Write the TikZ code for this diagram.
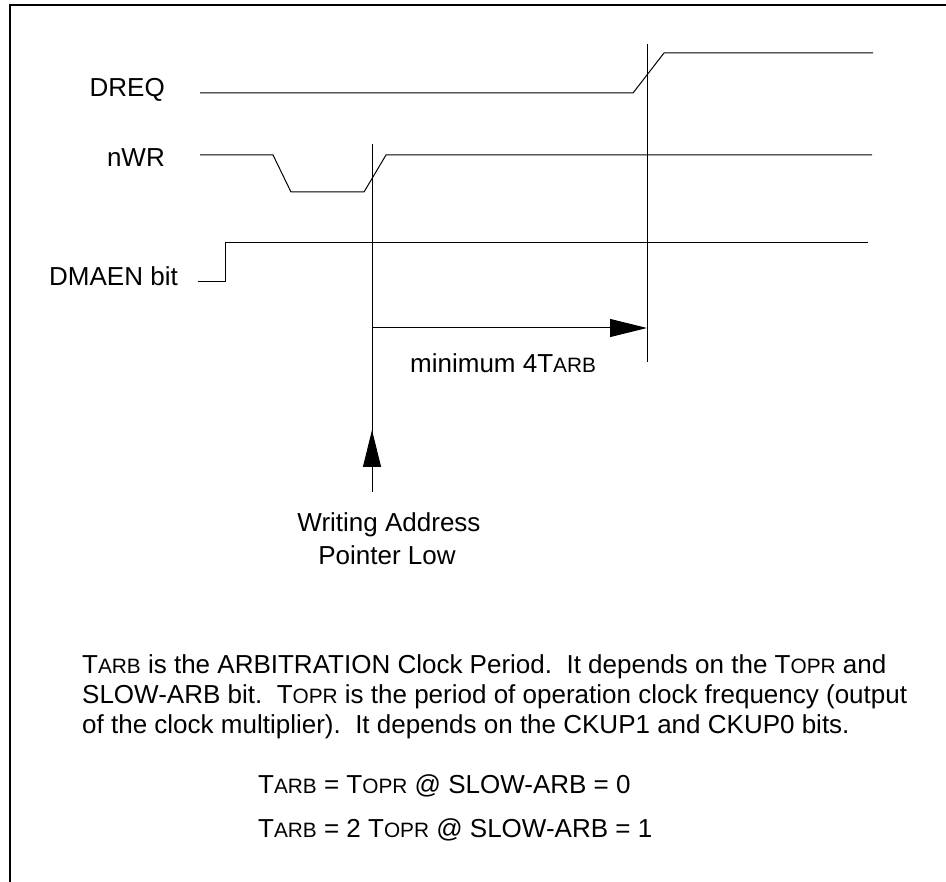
\documentclass[tikz,border=0pt]{standalone}
\usepackage{fontspec}
\setmainfont{Liberation Sans}
\usetikzlibrary{arrows.meta}
\newcommand\minicap[1]{{\fontsize{20.8}{20.8}\selectfont #1}}
\begin{document}
\begin{tikzpicture}[x=1pt,y=-1pt,
  sig/.style={line width=1pt, line join=miter},
  frameline/.style={line width=2.5pt, line join=miter},
  lbl/.style={font=\fontsize{26}{31}\selectfont, inner sep=0pt},
  tipline/.style={line width=1pt, -{Triangle[length=37pt,width=18pt]}}]
\useasboundingbox (0,0) rectangle (946,882);
% frame (top and left only)
\draw[frameline] (10,882) -- (10,5) -- (946,5);

% signal labels
\node[lbl, anchor=base east] (dreq) at (165,97) {DREQ};
\node[lbl, anchor=base east] (nwr) at (165,167) {nWR};
\node[lbl, anchor=base east] (dmaen) at (178,286) {DMAEN bit};

% DREQ waveform
\coordinate (d0) at (200,93);
\coordinate (d1) at (633,93);
\coordinate (d2) at (664,53);
\coordinate (d3) at (873,53);
\draw[sig] (d0) -- (d1) -- (d2) -- (d3);

% nWR waveform
\coordinate (w0) at (200,155);
\coordinate (w1) at (273,155);
\coordinate (w2) at (291,192);
\coordinate (w3) at (364,192);
\coordinate (w4) at (386,155);
\coordinate (w5) at (872,155);
\draw[sig] (w0) -- (w1) -- (w2) -- (w3) -- (w4) -- (w5);

% DMAEN waveform
\coordinate (e0) at (198,282);
\coordinate (e1) at (225,282);
\coordinate (e2) at (225,243);
\coordinate (e3) at (868,243);
\draw[sig] (e0) -- (e1) -- (e2) -- (e3);

% vertical markers
\coordinate (va) at (372,144);
\coordinate (vb) at (372,492);
\coordinate (vc) at (647,44);
\coordinate (vd) at (647,362);
\draw[sig] (va) -- (vb);
\draw[sig] (vc) -- (vd);

% timing arrow
\coordinate (h0) at (372,328);
\coordinate (h1) at (647,328);
\draw[tipline] (h0) -- (h1);
\node[lbl, anchor=base west] (mint) at (410,373) {minimum 4T\minicap{ARB}};

% pointer arrow
\coordinate (u1) at (372,430);
\draw[tipline] (vb) -- (u1);
\node[lbl, anchor=base] (wa1) at (389,532) {Writing Address};
\node[lbl, anchor=base] (wa2) at (387,565) {Pointer Low};

% explanatory text
\node[lbl, anchor=base west] (t1) at (82,673) {T\minicap{ARB} is the ARBITRATION Clock Period.\ \ It depends on the T\minicap{OPR} and};
\node[lbl, anchor=base west] (t2) at (82,703) {SLOW-ARB bit.\ \ T\minicap{OPR} is the period of operation clock frequency (output};
\node[lbl, anchor=base west] (t3) at (82,733) {of the clock multiplier).\ \ It depends on the CKUP1 and CKUP0 bits.};
\node[lbl, anchor=base west] (q1) at (258,793) {T\minicap{ARB} = T\minicap{OPR} @ SLOW-ARB = 0};
\node[lbl, anchor=base west] (q2) at (258,837) {T\minicap{ARB} = 2 T\minicap{OPR} @ SLOW-ARB = 1};
\end{tikzpicture}
\end{document}
